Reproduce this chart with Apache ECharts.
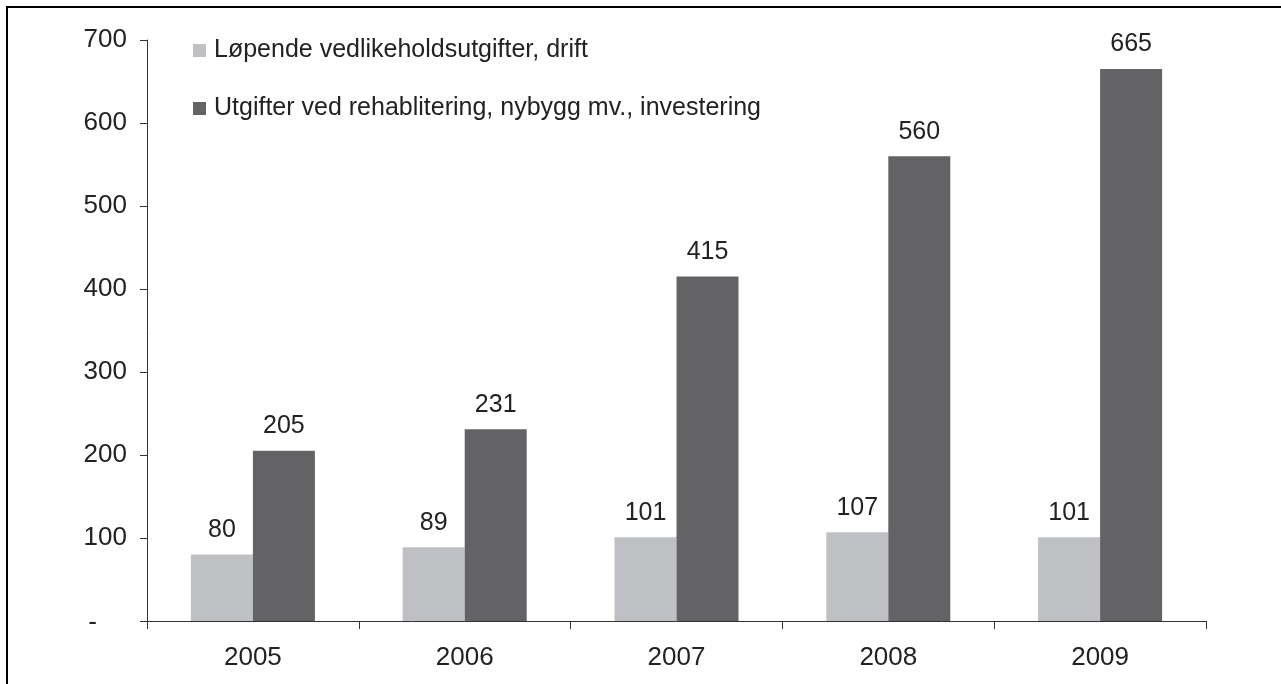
<!DOCTYPE html>
<html><head><meta charset="utf-8">
<script src="https://cdn.jsdelivr.net/npm/echarts@6/dist/echarts.min.js"></script>
<style>html,body{margin:0;padding:0;background:#fff}#c{width:1281px;height:684px}</style>
</head><body><div id="c"></div>
<script>
const categories = ['2005','2006','2007','2008','2009'];
const seriesNames = ['Løpende vedlikeholdsutgifter, drift','Utgifter ved rehablitering, nybygg mv., investering'];
const drift = [80, 89, 101, 107, 101];
const investering = [205, 231, 415, 560, 665];
const yTicks = [0,100,200,300,400,500,600,700];

const chart = echarts.init(document.getElementById('c'), null, {renderer:'canvas'});
const font = 'Liberation Sans, Arial, sans-serif';
chart.setOption({
  animation:false,
  backgroundColor:'#fff',
  graphic:[
    {type:'rect', shape:{x:6,y:6,width:1275,height:2}, style:{fill:'#000'}},
    {type:'rect', shape:{x:6,y:6,width:2,height:678}, style:{fill:'#000'}}
  ],
  grid:{left:147,right:75,top:40,bottom:63,containLabel:false},
  legend:{
    orient:'vertical', left:193, top:38, padding:0, itemWidth:13, itemHeight:13, itemGap:33,
    icon:'rect',
    textStyle:{fontFamily:font,fontSize:25,color:'#222',padding:[0,0,0,3]},
    data:seriesNames
  },
  xAxis:{
    type:'category', data:categories,
    axisLine:{lineStyle:{color:'#333',width:1}},
    axisTick:{show:true,length:8,alignWithLabel:false,lineStyle:{color:'#333'}},
    axisLabel:{fontFamily:font,fontSize:26,color:'#222',margin:24}
  },
  yAxis:{
    type:'value', min:yTicks[0], max:yTicks[yTicks.length-1], interval:100,
    axisLine:{show:true,lineStyle:{color:'#333',width:1}},
    axisTick:{show:true,length:7,lineStyle:{color:'#333'}},
    splitLine:{show:false},
    axisLabel:{fontFamily:font,fontSize:26,color:'#222',margin:20,
      formatter:v=> v===0 ? '{d|-}' : String(v),
      rich:{d:{fontFamily:font,fontSize:26,color:'#222',padding:[4,30,0,0]}}}
  },
  series:[
    {name:seriesNames[0],type:'bar',data:drift,barWidth:62,barGap:'0%',
     itemStyle:{color:'#bfc0c4'},
     label:{show:true,position:'top',distance:12,fontFamily:font,fontSize:25,color:'#222'}},
    {name:seriesNames[1],type:'bar',data:investering,barWidth:62,barGap:'0%',
     itemStyle:{color:'#636365'},
     label:{show:true,position:'top',distance:12,fontFamily:font,fontSize:25,color:'#222'}}
  ]
});
</script></body></html>
